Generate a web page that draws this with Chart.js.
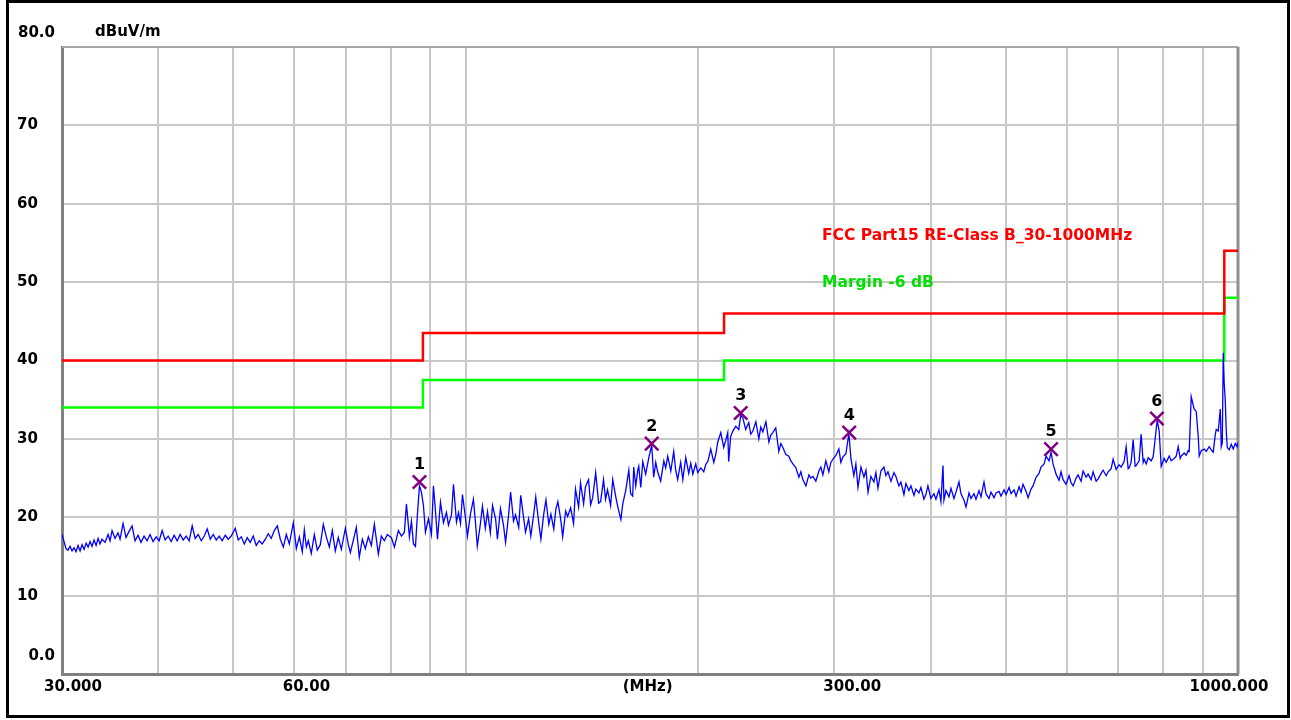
<!DOCTYPE html>
<html>
<head>
<meta charset="utf-8">
<title>Radiated emission 30-1000 MHz</title>
<script src="https://cdn.jsdelivr.net/npm/chart.js@4.4.1/dist/chart.umd.min.js"></script>
<style>
    html, body { margin: 0; padding: 0; background: #ffffff; }
    #wrap { position: relative; width: 1291px; height: 720px; }
</style>
</head>
<body>
<div id="wrap"><canvas id="chart-emi" width="1291" height="720"></canvas></div>
<script>
const traceFreq = [
    30.00, 30.18, 30.36, 30.54, 30.73, 30.91, 31.10, 31.28, 31.47, 31.66, 31.85, 32.04, 32.24, 32.43, 32.62, 32.81,
    33.01, 33.21, 33.41, 33.60, 33.80, 34.11, 34.42, 34.62, 34.83, 35.14, 35.46, 35.67, 35.99, 36.31, 36.64, 36.97,
    37.30, 37.64, 37.97, 38.32, 38.66, 39.01, 39.36, 39.72, 40.08, 40.44, 40.80, 41.17, 41.54, 41.91, 42.29, 42.67,
    43.06, 43.45, 43.84, 44.23, 44.63, 45.03, 45.44, 45.85, 46.26, 46.68, 47.10, 47.52, 47.95, 48.37, 48.81, 49.25,
    49.69, 50.29, 50.74, 51.20, 51.66, 52.12, 52.59, 53.06, 53.54, 54.02, 54.51, 55.00, 55.49, 55.99, 56.50, 57.01,
    57.52, 58.04, 58.56, 59.09, 59.80, 60.34, 60.88, 61.42, 61.79, 62.16, 62.53, 63.09, 63.66, 64.23, 64.81, 65.39,
    65.98, 66.57, 67.17, 67.77, 68.38, 69.00, 69.83, 70.46, 70.88, 71.72, 72.15, 72.80, 73.46, 74.12, 74.79, 75.46,
    76.14, 77.05, 77.75, 78.45, 79.15, 80.11, 80.83, 81.80, 82.54, 83.28, 83.78, 84.53, 85.04, 85.55, 86.07, 86.58,
    87.10, 87.61, 88.14, 88.67, 89.46, 90.27, 90.81, 91.36, 91.91, 92.73, 93.56, 94.40, 94.97, 95.83, 96.40, 97.27,
    97.86, 98.44, 99.02, 99.91, 100.5, 101.4, 102.3, 102.9, 103.5, 104.4, 105.1, 106.0, 106.7, 107.6, 108.3, 109.3,
    109.9, 110.9, 111.9, 112.6, 113.6, 114.3, 115.3, 116.0, 117.1, 117.8, 118.8, 119.5, 120.6, 121.4, 122.5, 123.2,
    124.3, 125.1, 126.2, 127.0, 128.1, 128.9, 130.0, 130.8, 131.6, 132.7, 133.5, 134.7, 135.5, 136.7, 137.9, 138.7,
    140.0, 140.8, 142.1, 142.9, 144.2, 145.1, 146.0, 147.3, 148.6, 149.5, 150.8, 151.7, 152.6, 154.0, 155.0, 156.4,
    157.3, 158.8, 159.7, 161.1, 162.6, 163.5, 164.5, 165.0, 166.0, 167.0, 167.5, 168.5, 169.5, 171.0, 172.6, 174.1,
    175.1, 176.2, 177.2, 178.8, 180.5, 181.5, 182.6, 184.3, 185.9, 187.0, 188.1, 189.8, 191.0, 192.7, 194.4, 195.6,
    196.8, 198.5, 199.7, 201.5, 203.3, 204.6, 205.8, 207.6, 209.5, 210.7, 212.0, 213.9, 215.8, 217.1, 218.4, 219.0,
    220.3, 221.7, 223.7, 225.7, 227.0, 228.4, 230.4, 232.5, 233.9, 235.4, 237.5, 239.6, 241.0, 242.5, 244.7, 246.9,
    248.3, 249.8, 252.0, 254.3, 255.9, 257.4, 259.7, 262.0, 263.6, 265.2, 267.6, 270.0, 271.6, 273.2, 275.7, 278.2,
    279.8, 281.5, 284.0, 286.6, 288.3, 290.0, 292.6, 295.2, 297.0, 298.8, 301.5, 304.2, 306.0, 307.9, 310.6, 313.4,
    315.3, 318.1, 320.0, 322.0, 324.9, 327.8, 329.8, 331.8, 334.7, 337.7, 339.7, 341.8, 344.8, 347.9, 350.0, 352.1,
    355.3, 358.5, 360.6, 363.8, 366.0, 369.3, 371.5, 374.8, 377.1, 380.5, 382.7, 386.2, 388.5, 392.0, 394.3, 396.7,
    400.2, 403.9, 406.3, 410.0, 412.4, 414.9, 416.1, 418.6, 422.4, 424.9, 428.7, 431.3, 435.2, 437.8, 441.7, 444.4,
    448.4, 451.1, 455.1, 457.8, 462.0, 464.7, 468.9, 471.7, 475.9, 478.8, 483.1, 486.0, 490.4, 493.3, 497.8, 500.8,
    505.3, 508.3, 512.9, 515.9, 520.6, 523.7, 526.8, 531.6, 534.8, 539.5, 542.7, 547.6, 552.5, 555.8, 560.9, 564.2,
    569.3, 572.7, 576.1, 581.3, 586.5, 590.0, 593.6, 598.9, 604.3, 607.9, 611.6, 617.1, 620.7, 626.3, 630.1, 635.8,
    639.6, 645.3, 649.2, 655.1, 659.0, 664.9, 668.9, 674.9, 679.0, 685.1, 689.1, 695.3, 701.6, 705.8, 712.1, 716.4,
    720.7, 722.8, 727.1, 731.5, 735.9, 738.1, 744.7, 749.2, 753.7, 756.0, 760.5, 765.1, 772.0, 776.5, 783.5, 785.8,
    790.6, 795.3, 802.4, 807.2, 814.5, 819.4, 826.8, 831.7, 836.7, 841.7, 844.2, 851.8, 856.9, 862.0, 864.6, 869.8,
    875.0, 877.6, 882.9, 888.2, 890.8, 896.2, 904.2, 909.6, 917.8, 923.3, 928.8, 934.4, 937.2, 942.8, 948.5, 951.3,
    954.2, 957.0, 959.8, 962.7, 965.6, 968.5, 974.3, 980.1, 986.0, 991.9, 997.8, 1000
];
const traceLevel = [
    17.8, 16.9, 16.0, 15.8, 16.3, 15.7, 16.1, 15.6, 16.4, 15.7, 16.5, 15.9, 16.7, 16.2, 16.9, 16.3,
    17.1, 16.4, 17.3, 16.6, 17.2, 16.8, 17.8, 17.0, 18.3, 17.3, 18.0, 17.2, 19.2, 17.4, 18.2, 18.9,
    17.0, 17.7, 16.8, 17.6, 17.0, 17.8, 16.9, 17.5, 17.0, 18.3, 17.1, 17.6, 16.9, 17.7, 17.0, 17.8,
    17.1, 17.6, 17.0, 18.9, 17.3, 17.8, 17.0, 17.6, 18.5, 17.2, 17.8, 17.1, 17.6, 17.0, 17.7, 17.2,
    17.6, 18.6, 17.1, 17.5, 16.6, 17.4, 16.8, 17.6, 16.4, 17.0, 16.6, 17.2, 17.9, 17.3, 18.3, 18.9,
    17.2, 16.2, 17.8, 16.6, 19.3, 16.0, 17.5, 15.6, 18.4, 16.2, 17.0, 15.4, 17.8, 15.8, 16.5, 19.1,
    17.5, 16.2, 18.3, 15.7, 17.4, 15.9, 18.6, 16.5, 15.5, 17.6, 18.7, 14.9, 17.2, 16.0, 17.5, 16.4,
    19.1, 15.3, 17.6, 17.0, 17.8, 17.4, 16.2, 18.3, 17.6, 18.1, 21.7, 17.5, 19.5, 16.6, 16.3, 20.4,
    24.0, 23.2, 21.5, 18.1, 19.8, 17.8, 24.0, 20.8, 17.2, 21.9, 19.3, 20.6, 19.0, 20.3, 24.2, 19.4,
    20.6, 19.2, 22.9, 19.9, 17.6, 20.4, 22.3, 19.5, 16.3, 19.0, 21.4, 18.6, 20.7, 18.0, 21.5, 19.8,
    17.2, 21.1, 19.0, 16.8, 20.2, 23.2, 19.5, 20.3, 18.7, 22.8, 20.0, 18.1, 19.8, 17.6, 20.5, 22.6,
    19.3, 17.2, 20.5, 22.2, 19.1, 20.4, 18.5, 21.0, 22.0, 19.8, 17.5, 20.8, 20.1, 21.2, 19.2, 23.6,
    21.3, 24.4, 21.7, 23.9, 24.8, 21.6, 22.5, 25.7, 21.8, 22.0, 24.8, 22.3, 23.5, 21.5, 24.8, 22.6,
    21.4, 19.7, 21.7, 23.4, 26.0, 23.0, 22.7, 26.4, 24.0, 26.0, 26.5, 23.8, 27.1, 25.5, 27.6, 29.2,
    25.1, 27.0, 25.8, 24.6, 27.2, 26.3, 27.8, 25.9, 28.4, 26.0, 24.8, 27.0, 24.8, 27.6, 25.6, 26.9,
    25.5, 26.8, 25.7, 26.3, 25.8, 26.8, 27.1, 28.7, 27.0, 28.0, 29.6, 30.8, 28.9, 29.8, 30.8, 27.1,
    30.3, 31.0, 31.6, 31.2, 33.0, 32.7, 31.2, 32.1, 30.6, 31.0, 32.2, 30.0, 31.5, 30.9, 32.2, 29.6,
    30.5, 30.8, 31.4, 28.4, 29.4, 28.9, 28.0, 27.8, 27.2, 26.8, 26.3, 25.1, 25.8, 24.8, 24.0, 25.4,
    25.0, 25.2, 24.6, 25.9, 26.4, 25.4, 27.2, 25.8, 27.0, 27.4, 27.9, 28.7, 27.0, 27.7, 28.1, 30.7,
    27.5, 25.3, 26.8, 23.8, 26.4, 25.1, 26.0, 23.2, 25.2, 24.5, 25.7, 23.7, 25.9, 26.4, 25.3, 25.8,
    24.6, 25.7, 25.2, 24.0, 24.5, 22.9, 24.3, 23.4, 24.0, 22.8, 23.6, 23.1, 23.8, 22.3, 22.9, 24.0,
    22.4, 23.0, 22.3, 23.5, 22.0, 26.6, 22.2, 23.4, 22.6, 23.7, 22.4, 23.2, 24.5, 23.0, 22.2, 21.3,
    23.1, 22.4, 23.0, 22.3, 23.4, 22.6, 24.5, 23.0, 22.4, 23.2, 22.5, 23.1, 23.3, 22.7, 23.5, 22.9,
    23.8, 23.0, 23.5, 22.7, 23.9, 23.2, 24.2, 23.3, 22.5, 23.6, 24.0, 25.1, 25.6, 26.4, 26.8, 27.8,
    27.2, 28.3, 26.8, 25.5, 24.7, 25.8, 24.8, 24.2, 25.3, 24.4, 24.0, 25.0, 25.4, 24.6, 25.9, 25.1,
    25.5, 24.8, 25.8, 24.6, 24.9, 25.6, 26.0, 25.3, 25.8, 26.2, 27.4, 26.1, 26.7, 26.4, 27.1, 29.0,
    26.2, 26.3, 27.0, 29.9, 26.5, 26.6, 27.2, 30.6, 27.0, 27.4, 26.8, 27.6, 27.2, 27.7, 31.2, 32.4,
    31.0, 26.5, 27.5, 27.0, 27.8, 27.2, 27.5, 27.8, 29.0, 27.5, 27.8, 28.2, 27.9, 28.5, 28.4, 35.4,
    34.3, 33.8, 33.5, 30.3, 27.8, 28.5, 28.7, 28.4, 29.0, 28.6, 28.3, 30.5, 31.2, 31.0, 33.8, 29.0,
    29.5, 41.0, 37.0, 35.0, 31.0, 28.9, 28.6, 29.3, 28.7, 29.4, 29.0, 29.6
];

// FCC Part 15 class B limit and the -6 dB margin line
const limitFreq = [30, 88, 216, 960, 1000];
const limitLevel = [40, 43.5, 46, 54, 54];
const marginLevel = [34, 37.5, 40, 48, 48];

// Peak markers
const markerNames = ['1', '2', '3', '4', '5', '6'];
const markerFreq = [87.1, 174.1, 227.0, 313.7, 572.7, 785.2];
const markerLevel = [24.5, 29.4, 33.3, 30.8, 28.7, 32.6];

// Axes
const xGridValues = [30, 40, 50, 60, 70, 80, 90, 100, 200, 300, 400, 500, 600, 700, 800, 900, 1000];
const xTickValues = [30, 60, 172, 300, 1000];
const xTickLabels = ['30.000', '60.00', '(MHz)', '300.00', '1000.000'];
const yTickValues = [0, 10, 20, 30, 40, 50, 60, 70, 80];
const yTickLabels = ['0.0', '10', '20', '30', '40', '50', '60', '70', '80.0'];

const LIMIT_TEXT = 'FCC Part15 RE-Class B_30-1000MHz';
const MARGIN_TEXT = 'Margin -6 dB';
const UNIT_TEXT = 'dBuV/m';

const FONT = 'bold 15px "DejaVu Sans"';

const pairs = (xs, ys) => xs.map((x, i) => ({ x: x, y: ys[i] }));

// frame, axis texts and marker numbers
const emiDecor = {
    id: 'emiDecor',
    beforeDatasetsDraw(chart) {
        const { ctx, chartArea: a } = chart;
        ctx.save();
        ctx.strokeStyle = '#a8a8a8';
        ctx.lineWidth = 2;
        ctx.beginPath();
        ctx.moveTo(a.left, a.top);
        ctx.lineTo(a.right, a.top);
        ctx.stroke();
        ctx.strokeStyle = '#909090';
        ctx.lineWidth = 3;
        ctx.beginPath();
        ctx.moveTo(a.right, a.top);
        ctx.lineTo(a.right, a.bottom);
        ctx.stroke();
        ctx.restore();
    },
    afterDraw(chart) {
        const { ctx } = chart;
        const xs = chart.scales.x, ys = chart.scales.y;
        ctx.save();

        // outer black frame
        ctx.strokeStyle = '#000000';
        ctx.lineWidth = 3;
        ctx.strokeRect(7.5, 1.5, 1281, 715);

        ctx.font = FONT;
        ctx.fillStyle = '#000000';
        ctx.textBaseline = 'middle';

        // y labels: whole numbers left aligned, decimals right aligned
        yTickValues.forEach((v, i) => {
            const lbl = yTickLabels[i];
            let y = ys.getPixelForValue(v);
            if (v === 0) y -= 18;
            if (v === 80) y -= 14;
            if (lbl.indexOf('.') >= 0) {
                ctx.textAlign = 'right';
                ctx.fillText(lbl, 55, y);
            } else {
                ctx.textAlign = 'left';
                ctx.fillText(lbl, 17, y);
            }
        });

        // x labels
        const shift = [11, 12, 0, 18, -9];
        ctx.textAlign = 'center';
        xTickValues.forEach((v, i) => {
            ctx.fillText(xTickLabels[i], xs.getPixelForValue(v) + shift[i], 687);
        });

        ctx.textAlign = 'left';
        ctx.fillText(UNIT_TEXT, 95, 32);

        // limit captions
        ctx.font = 'bold 15.5px "DejaVu Sans"';
        ctx.fillStyle = '#ff0000';
        ctx.fillText(LIMIT_TEXT, 822, 236);
        ctx.fillStyle = '#00e000';
        ctx.fillText(MARGIN_TEXT, 822, 283);

        // marker numbers
        ctx.font = 'bold 16px "DejaVu Sans"';
        ctx.fillStyle = '#000000';
        ctx.textAlign = 'center';
        markerFreq.forEach((f, i) => {
            ctx.fillText(markerNames[i], xs.getPixelForValue(f), ys.getPixelForValue(markerLevel[i]) - 17);
        });
        ctx.restore();
    }
};

const ctx = document.getElementById('chart-emi').getContext('2d');
new Chart(ctx, {
    type: 'scatter',
    data: {
        datasets: [
            {
                label: 'Markers',
                data: pairs(markerFreq, markerLevel),
                showLine: false,
                pointStyle: 'crossRot',
                pointRadius: 9.5,
                borderColor: '#800080',
                borderWidth: 2.5
            },
            {
                label: 'Trace',
                data: pairs(traceFreq, traceLevel),
                showLine: true,
                borderColor: '#0000ff',
                borderWidth: 1.3,
                pointRadius: 0
            },
            {
                label: LIMIT_TEXT,
                data: pairs(limitFreq, limitLevel),
                showLine: true,
                stepped: 'before',
                borderColor: '#ff0000',
                borderWidth: 2.5,
                pointRadius: 0
            },
            {
                label: MARGIN_TEXT,
                data: pairs(limitFreq, marginLevel),
                showLine: true,
                stepped: 'before',
                borderColor: '#00ff00',
                borderWidth: 2.5,
                pointRadius: 0
            }
        ]
    },
    options: {
        responsive: false,
        animation: false,
        devicePixelRatio: 1,
        layout: { padding: { left: 62, top: 47, right: 53, bottom: 46 } },
        plugins: { legend: { display: false }, tooltip: { enabled: false } },
        scales: {
            x: {
                type: 'logarithmic',
                min: 30,
                max: 1000,
                afterBuildTicks: (scale) => { scale.ticks = xGridValues.map(v => ({ value: v })); },
                ticks: { display: false },
                grid: { color: '#c8c8c8', lineWidth: 2, drawTicks: false },
                border: { color: '#808080', width: 3 }
            },
            y: {
                min: 0,
                max: 80,
                ticks: { display: false, stepSize: 10 },
                grid: { color: '#c8c8c8', lineWidth: 2, drawTicks: false },
                border: { color: '#808080', width: 3 }
            }
        }
    },
    plugins: [emiDecor]
});
</script>
</body>
</html>
